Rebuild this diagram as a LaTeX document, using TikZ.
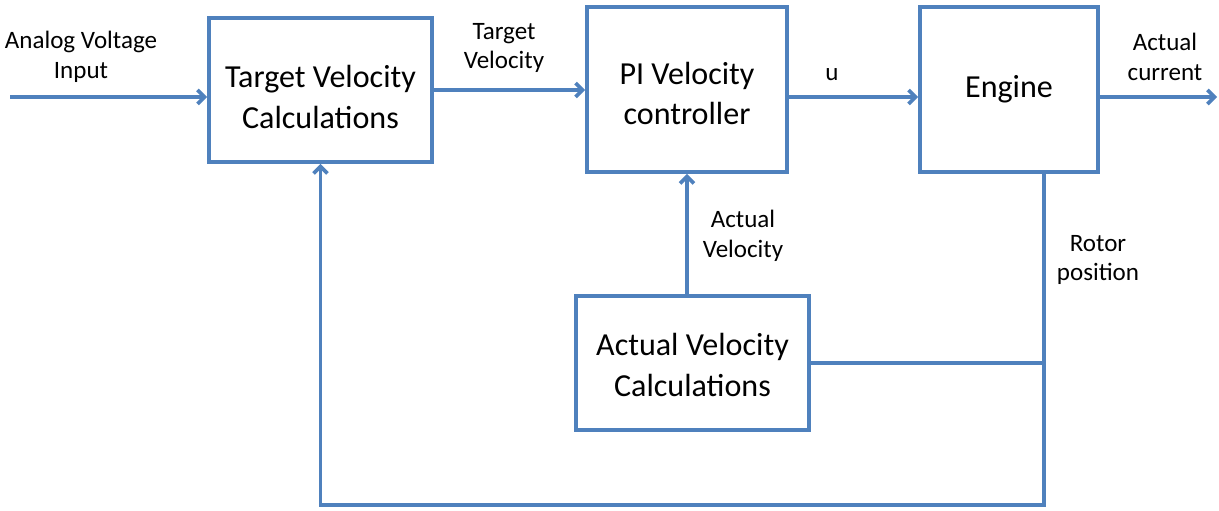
\documentclass[tikz,border=0pt]{standalone}
\usepackage{fontspec}
\setmainfont{Carlito}
\usepackage{xcolor}
\usetikzlibrary{arrows.meta, positioning, calc}
\definecolor{lineblue}{RGB}{79,129,189}

\begin{document}
\begin{tikzpicture}[x=0.025cm, y=-0.025cm,
    block/.style={draw=lineblue, line width=2.6pt, fill=white, inner sep=0pt},
    bigtxt/.style={font=\fontsize{22.8}{28.5}\selectfont, align=center},
    smalltxt/.style={font=\fontsize{17.8}{21.3}\selectfont, align=center},
    wire/.style={draw=lineblue, line width=2.6pt},
    arr/.style={wire, -{Straight Barb[length=5pt, width=10pt]}}]
\useasboundingbox (0,0) rectangle (1219,511);

% Blocks
\node[block, minimum width=5.575cm, minimum height=3.6cm] (tvc) at (320.5,90) {};
\node[block, minimum width=5cm, minimum height=4.125cm] (pi) at (687,89.5) {};
\node[block, minimum width=4.45cm, minimum height=4.125cm] (eng) at (1009,89.5) {};
\node[block, minimum width=5.825cm, minimum height=3.35cm] (avc) at (692.5,363) {};

\node[bigtxt] (tvctxt) at ($(tvc.center)+(0,7)$) {Target Velocity\\Calculations};
\node[bigtxt] (pitxt) at ($(pi.center)+(0,4)$) {PI Velocity\\controller};
\node[bigtxt] (engtxt) at (eng.center) {Engine};
\node[bigtxt] (avctxt) at ($(avc.center)+(0,2)$) {Actual Velocity\\Calculations};

% Connection points
\coordinate (in) at (10,97);
\coordinate (out) at (1217,97);
\coordinate (tap) at ($(eng.south)+(35,0)$);
\coordinate (bottom) at (1044,505);

% Forward path
\draw[arr] (in) -- (in -| tvc.west);
\draw[arr] (tvc.east) -- (tvc.east -| pi.west);
\draw[arr] ($(pi.east)+(0,7.5)$) -- ($(eng.west)+(0,7.5)$);
\draw[arr] ($(eng.east)+(0,7.5)$) -- (out);

% Feedback
\draw[arr] (tap) -- (bottom) -| (tvc.south);
\draw[wire] (avc.east) -- (avc.east -| tap);
\draw[arr] (pi.south |- avc.north) -- (pi.south);

% Labels
\node[smalltxt] (lblin) at (81,57) {Analog Voltage\\Input};
\node[smalltxt] (lbltv) at (504,48) {Target\\Velocity};
\node[smalltxt] (lblu) at (832,75) {u};
\node[smalltxt] (lblout) at (1165,57) {Actual\\current};
\node[smalltxt] (lblav) at (743,236) {Actual\\Velocity};
\node[smalltxt] (lblrp) at (1098,260) {Rotor\\position};

\end{tikzpicture}
\end{document}
